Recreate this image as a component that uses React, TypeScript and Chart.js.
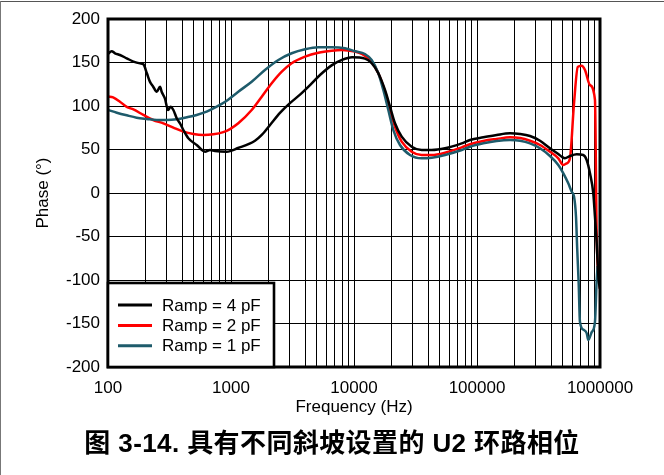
import React, { useEffect, useRef } from 'react';
import { Chart, registerables } from 'chart.js';

Chart.register(...registerables);

// Ramp = 4 pF (black)
const freq4 = [100, 107, 114, 125, 142, 161, 182, 194, 207, 219, 233, 249, 265, 273, 290, 308, 323, 340, 362, 385, 410, 450, 526, 615, 675, 741, 923, 1140, 1567, 1786, 2100, 2500, 3000, 3640, 4390, 5290, 6620, 7980, 9640, 12270, 13920, 15770, 17870, 19630, 21540, 24430, 29440, 35480, 42850, 54960, 75140, 87700, 112500, 144500, 185500, 223700, 269800, 325300, 392000, 458000, 488600, 519000, 570000, 647000, 731000, 779000, 829000, 882000, 910000, 940000, 957000, 975000, 1000000];
const phase4 = [160, 163, 160.6, 158.6, 154.8, 151, 149, 147.9, 137.6, 128, 122.2, 116.4, 122.2, 116.4, 108.8, 95.4, 99.2, 95.4, 85.9, 80.1, 72.4, 62.9, 55.2, 47.5, 49.4, 48.3, 47.5, 51.7, 60, 67, 79, 92, 103, 113, 124, 135.6, 147, 153, 156, 154.5, 149.1, 137.6, 118.4, 99.2, 80.1, 64.8, 53.2, 49.4, 49.4, 51.4, 57.1, 60.9, 64, 66.7, 68.6, 67.8, 65.5, 60.1, 51.4, 44.8, 41.7, 39.9, 42.5, 44.5, 43.7, 37.9, 22.6, -0.4, -27.2, -57.8, -80.8, -100, -110];

// Ramp = 2 pF (red)
const freq2 = [100, 110, 125, 142, 161, 194, 233, 282, 340, 410, 494, 595, 718, 866, 982, 1146, 1473, 1778, 2143, 2587, 3114, 3998, 5131, 6590, 7945, 10190, 11560, 13920, 15770, 17870, 19630, 21540, 24430, 29440, 35480, 42850, 54960, 75140, 87700, 112500, 144500, 185500, 223700, 269800, 325300, 392000, 458000, 503500, 535800, 570000, 614800, 660000, 709000, 755000, 829000, 910000, 940000, 1000000];
const phase2 = [111, 110, 105, 99, 96, 89.7, 83.9, 80.1, 75.1, 70.5, 67.8, 66.7, 67.5, 70, 73.5, 80.1, 95.4, 110.7, 126.1, 139.4, 149.1, 156.7, 161.3, 163.6, 164.4, 162.5, 160, 151, 137.6, 116.4, 95.4, 76.2, 59, 47.5, 43.7, 43.7, 46.3, 52.5, 56, 59.8, 62.1, 64, 63.2, 60.1, 55.2, 47.5, 39.9, 32.2, 34.1, 40, 103, 145, 146.4, 141.4, 124, 107, -50, -110];

// Ramp = 1 pF (teal)
const freq1 = [100, 118, 142, 171, 207, 249, 300, 362, 437, 526, 634, 765, 923, 1146, 1473, 1888, 2428, 3114, 3998, 5131, 6590, 8450, 10190, 12270, 13920, 15770, 17310, 19010, 20890, 23660, 28520, 35480, 42850, 54960, 75140, 87700, 112500, 144500, 185500, 223700, 269800, 325300, 392000, 458000, 503500, 552000, 588500, 614800, 638000, 653000, 671000, 687000, 731000, 779000, 803000, 856000, 910000, 940000, 957000];
const phase1 = [95.5, 92.3, 89.3, 86.6, 85.1, 83.9, 83.9, 84.7, 87, 89.7, 93.5, 99.2, 106.1, 116.4, 127.9, 141.4, 152.9, 160.6, 165.2, 167.5, 167.5, 166.3, 163, 159.8, 152.9, 137.6, 118.4, 95.4, 72.4, 55.2, 43.7, 39.9, 40.6, 43.7, 49.4, 53.2, 57.1, 59.8, 60.9, 60.1, 57.1, 51.4, 42.5, 32.2, 22.6, 11.1, 1.5, -4, -27, -65, -104, -148, -157, -161, -169, -160, -148, -100, -84];

const seriesLabels = ['Ramp = 4 pF', 'Ramp = 2 pF', 'Ramp = 1 pF'];
const seriesColors = ['#000000', '#ff0000', '#1e5b6b'];
const xDecades = [100, 1000, 10000, 100000, 1000000];
const xTickLabels = ['100', '1000', '10000', '100000', '1000000'];
const yMin = -200;
const yMax = 200;
const yStep = 50;
const xTitle = 'Frequency (Hz)';
const yTitle = 'Phase (°)';
const caption = '图 3-14. 具有不同斜坡设置的 U2 环路相位';

const FONT = '"Liberation Sans", Arial, Helvetica, sans-serif';

const toPoints = (xs: number[], ys: number[]) => xs.map((x, i) => ({ x, y: ys[i] }));

const gridValues: number[] = [];
for (let d = 0; d < xDecades.length - 1; d++) {
  for (let m = 1; m <= 9; m++) gridValues.push(m * xDecades[d]);
}
gridValues.push(xDecades[xDecades.length - 1]);

const framePlugin = {
  id: 'plotFrame',
  afterDatasetsDraw(chart: any) {
    const { ctx, chartArea } = chart;
    ctx.save();
    ctx.strokeStyle = '#000';
    ctx.lineWidth = 3;
    ctx.strokeRect(chartArea.left, chartArea.top, chartArea.right - chartArea.left, chartArea.bottom - chartArea.top);
    ctx.restore();
  },
};

const boxLegendPlugin = {
  id: 'boxLegend',
  afterDraw(chart: any) {
    const { ctx, chartArea } = chart;
    const w = 166;
    const h = 84;
    const left = chartArea.left;
    const top = chartArea.bottom - h;
    ctx.save();
    ctx.fillStyle = '#fff';
    ctx.fillRect(left, top, w, h);
    ctx.strokeStyle = '#000';
    ctx.lineWidth = 2.6;
    ctx.strokeRect(left, top, w, h);
    chart.data.datasets.forEach((ds: any, i: number) => {
      const y = top + 22 + i * 20.4;
      ctx.strokeStyle = ds.borderColor;
      ctx.lineWidth = 3;
      ctx.beginPath();
      ctx.moveTo(left + 10, y);
      ctx.lineTo(left + 44, y);
      ctx.stroke();
      ctx.fillStyle = '#000';
      ctx.font = `17px ${FONT}`;
      ctx.textAlign = 'left';
      ctx.textBaseline = 'middle';
      ctx.fillText(ds.label, left + 54, y + 1);
    });
    ctx.restore();
  },
};

export default function App() {
  const canvasRef = useRef<HTMLCanvasElement | null>(null);

  useEffect(() => {
    if (!canvasRef.current) return;
    const font = { family: FONT, size: 17 };
    const chart = new Chart(canvasRef.current, {
      type: 'line',
      data: {
        datasets: [
          { label: seriesLabels[0], data: toPoints(freq4, phase4), borderColor: seriesColors[0], borderWidth: 2.5, pointRadius: 0, cubicInterpolationMode: 'monotone', order: 0 },
          { label: seriesLabels[1], data: toPoints(freq2, phase2), borderColor: seriesColors[1], borderWidth: 2.5, pointRadius: 0, cubicInterpolationMode: 'monotone', order: 2 },
          { label: seriesLabels[2], data: toPoints(freq1, phase1), borderColor: seriesColors[2], borderWidth: 2.5, pointRadius: 0, cubicInterpolationMode: 'monotone', order: 1 },
        ],
      },
      options: {
        responsive: false,
        animation: false,
        events: [],
        layout: { padding: { left: 20, top: 19, right: 64, bottom: 52 } },
        plugins: { legend: { display: false }, tooltip: { enabled: false }, title: { display: false } },
        scales: {
          x: {
            type: 'logarithmic',
            min: xDecades[0],
            max: xDecades[xDecades.length - 1],
            afterBuildTicks: (scale: any) => {
              scale.ticks = gridValues.map((v) => ({ value: v, major: xDecades.includes(v) }));
            },
            afterFit: (scale: any) => {
              scale.height = 56;
            },
            grid: { color: '#000', lineWidth: 1, drawTicks: false },
            border: { display: false },
            ticks: {
              autoSkip: false,
              maxRotation: 0,
              minRotation: 0,
              padding: 11,
              color: '#000',
              font,
              callback: (value: any) => {
                const i = xDecades.indexOf(Number(value));
                return i >= 0 ? xTickLabels[i] : '';
              },
            },
            title: { display: true, text: xTitle, color: '#000', font, padding: { top: 0, bottom: 5 } },
          },
          y: {
            min: yMin,
            max: yMax,
            afterFit: (scale: any) => {
              scale.width = 88;
            },
            grid: { color: '#000', lineWidth: 1, drawTicks: false },
            border: { display: false },
            ticks: { stepSize: yStep, padding: 8, color: '#000', font },
            title: { display: true, text: yTitle, color: '#000', font, padding: { top: 13, bottom: 0 } },
          },
        },
      },
      plugins: [framePlugin, boxLegendPlugin],
    } as any);
    return () => chart.destroy();
  }, []);

  return (
    <div style={{ position: 'absolute', left: 0, top: 0, width: 664, height: 475, background: '#fff', overflow: 'hidden' }}>
      <div style={{ position: 'absolute', left: 0, top: 1, width: 664, height: 1, background: '#555' }} />
      <div style={{ position: 'absolute', left: 0, top: 1, width: 1, height: 474, background: '#777' }} />
      <canvas ref={canvasRef} width={664} height={475} style={{ position: 'absolute', left: 0, top: 0, display: 'block' }} />
      <div
        style={{
          position: 'absolute',
          left: 0,
          top: 428,
          width: 664,
          textAlign: 'center',
          fontFamily: '"Liberation Sans", Arial, "Noto Sans CJK SC", sans-serif',
          fontWeight: 'bold',
          fontSize: 26,
          letterSpacing: '0.4px',
          lineHeight: '30px',
          color: '#000',
          whiteSpace: 'nowrap',
        }}
      >
        {caption}
      </div>
    </div>
  );
}
